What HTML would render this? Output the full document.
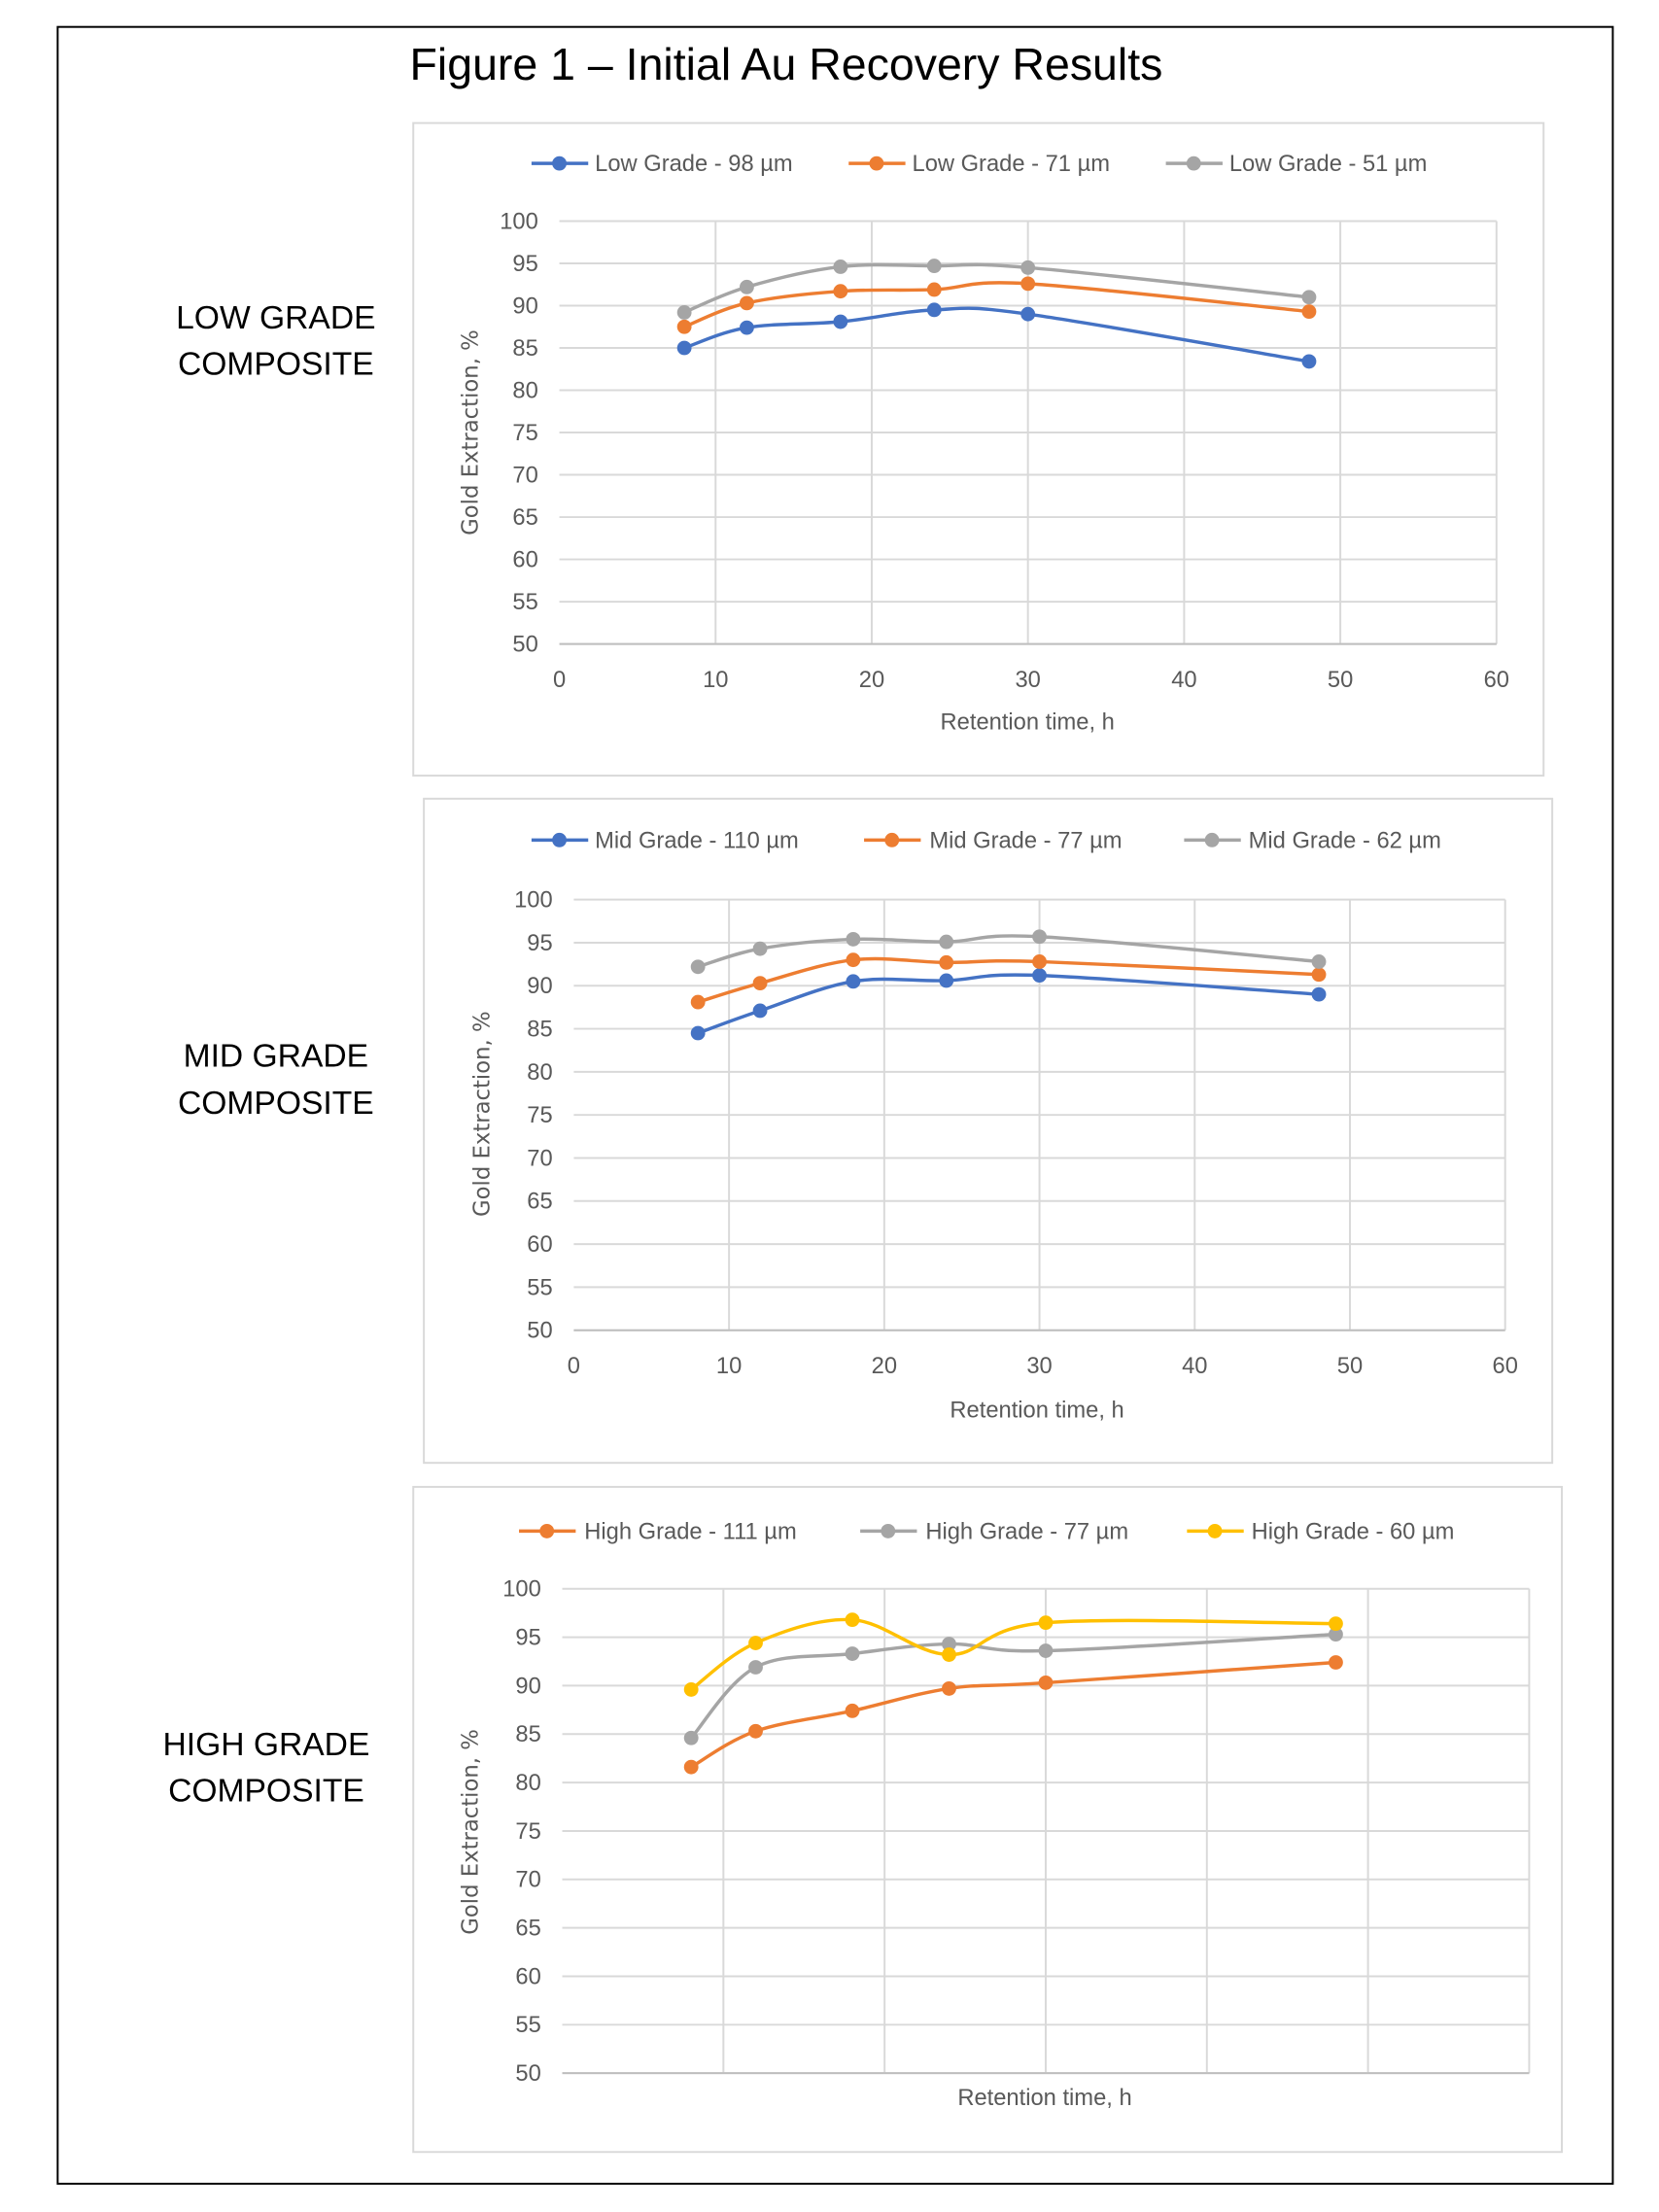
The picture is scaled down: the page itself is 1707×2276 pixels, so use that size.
<!DOCTYPE html>
<html><head><meta charset="utf-8"><style>
html,body{margin:0;padding:0;background:#fff;}
svg{display:block;}
.t{font-family:"Liberation Sans",sans-serif;fill:#595959;font-size:24px;}
.lab{font-family:"Liberation Sans",sans-serif;fill:#000;font-size:34px;}
.yt{font-family:"DejaVu Sans",sans-serif;fill:#595959;font-size:23px;}
</style></head><body>
<svg id="s" width="1707" height="2276" viewBox="0 0 1707 2276" xmlns="http://www.w3.org/2000/svg">
<g transform="scale(0.98895)">
<rect x="60" y="28" width="1618" height="2244" fill="none" stroke="#000" stroke-width="2"/>
<text x="818" y="83" text-anchor="middle" font-family="Liberation Sans, sans-serif" font-size="47" fill="#000">Figure 1 – Initial Au Recovery Results</text>

<text class="lab" x="287" y="342" text-anchor="middle">LOW GRADE</text>
<text class="lab" x="287" y="390" text-anchor="middle">COMPOSITE</text>
<text class="lab" x="287" y="1110" text-anchor="middle">MID GRADE</text>
<text class="lab" x="287" y="1159" text-anchor="middle">COMPOSITE</text>
<text class="lab" x="277" y="1826" text-anchor="middle">HIGH GRADE</text>
<text class="lab" x="277" y="1874" text-anchor="middle">COMPOSITE</text>

<rect x="430" y="128" width="1176" height="679" fill="none" stroke="#d9d9d9" stroke-width="2"/>
<rect x="441" y="831" width="1174" height="691" fill="none" stroke="#d9d9d9" stroke-width="2"/>
<rect x="430" y="1547" width="1195" height="692" fill="none" stroke="#d9d9d9" stroke-width="2"/>

<g id="g1"></g><g id="g2"></g><g id="g3"></g>

<text class="t" x="619" y="178">Low Grade - 98 µm</text>
<text class="t" x="949" y="178">Low Grade - 71 µm</text>
<text class="t" x="1279" y="178">Low Grade - 51 µm</text>
<text class="t" x="1069" y="759" text-anchor="middle">Retention time, h</text>
<text class="yt" transform="translate(497,450) rotate(-90)" text-anchor="middle">Gold Extraction, %</text>
<g id="y1" class="t" text-anchor="end"></g><g id="x1" class="t" text-anchor="middle"></g>

<text class="t" x="619" y="882">Mid Grade - 110 µm</text>
<text class="t" x="967" y="882">Mid Grade - 77 µm</text>
<text class="t" x="1299" y="882">Mid Grade - 62 µm</text>
<text class="t" x="1079" y="1475" text-anchor="middle">Retention time, h</text>
<text class="yt" transform="translate(509,1159) rotate(-90)" text-anchor="middle">Gold Extraction, %</text>
<g id="y2" class="t" text-anchor="end"></g><g id="x2" class="t" text-anchor="middle"></g>

<text class="t" x="608" y="1601">High Grade - 111 µm</text>
<text class="t" x="963" y="1601">High Grade - 77 µm</text>
<text class="t" x="1302" y="1601">High Grade - 60 µm</text>
<text class="t" x="1087" y="2190" text-anchor="middle">Retention time, h</text>
<text class="yt" transform="translate(497,1906) rotate(-90)" text-anchor="middle">Gold Extraction, %</text>
<g id="y3" class="t" text-anchor="end"></g>
</g>
</svg>
<script>
var NS="http://www.w3.org/2000/svg";
function el(p,n,a){var e=document.createElementNS(NS,n);for(var k in a)e.setAttribute(k,a[k]);p.appendChild(e);return e;}
var B="#4472C4",O="#ED7D31",G="#A5A5A5",Y="#FFC000";
var X=[8,12,18,24,30,48];
var charts=[
 {g:"g1",yl:"y1",xl:"x1",L:582,R:1557,T:230,Bt:670,leg:[[553,B],[883,O],[1213,G]],ly:170,
  s:[[B,[85.0,87.4,88.1,89.5,89.0,83.4]],[O,[87.5,90.3,91.7,91.9,92.6,89.3]],[G,[89.2,92.2,94.6,94.7,94.5,91.0]]]},
 {g:"g2",yl:"y2",xl:"x2",L:597,R:1566,T:936,Bt:1384,leg:[[553,B],[899,O],[1232,G]],ly:874,
  s:[[B,[84.5,87.1,90.5,90.6,91.2,89.0]],[O,[88.1,90.3,93.0,92.7,92.8,91.3]],[G,[92.2,94.3,95.4,95.1,95.7,92.8]]]},
 {g:"g3",yl:"y3",xl:null,L:585,R:1591,T:1653,Bt:2157,leg:[[540,O],[895,G],[1235,Y]],ly:1593,
  s:[[O,[81.6,85.3,87.4,89.7,90.3,92.4]],[G,[84.6,91.9,93.3,94.3,93.6,95.3]],[Y,[89.6,94.4,96.8,93.2,96.5,96.4]]]}
];
charts.forEach(function(c){
 var g=document.getElementById(c.g);
 var sx=function(v){return c.L+(c.R-c.L)*v/60;}, sy=function(v){return c.Bt-(c.Bt-c.T)*(v-50)/50;};
 for(var i=0;i<=10;i++){var y=sy(50+5*i);el(g,"line",{x1:c.L,x2:c.R,y1:y,y2:y,stroke:"#d9d9d9","stroke-width":2});}
 for(var i=1;i<=6;i++){var x=sx(10*i);el(g,"line",{x1:x,x2:x,y1:c.T,y2:c.Bt,stroke:"#d9d9d9","stroke-width":2});}
 el(g,"line",{x1:c.L,x2:c.R,y1:c.Bt,y2:c.Bt,stroke:"#bfbfbf","stroke-width":2});
 c.leg.forEach(function(l){el(g,"line",{x1:l[0],x2:l[0]+59,y1:c.ly,y2:c.ly,stroke:l[1],"stroke-width":3.5});
  el(g,"circle",{cx:l[0]+29,cy:c.ly,r:7.5,fill:l[1]});});
 c.s.forEach(function(s){
  var p=X.map(function(x,i){return [sx(x),sy(s[1][i])];});
  var d="M"+p[0][0]+","+p[0][1];
  for(var i=0;i<p.length-1;i++){
   var p0=p[i-1]||p[i],p1=p[i],p2=p[i+1],p3=p[i+2]||p[i+1],t=0.17;
   var c1=[p1[0]+(p2[0]-p0[0])*t,p1[1]+(p2[1]-p0[1])*t],c2=[p2[0]-(p3[0]-p1[0])*t,p2[1]-(p3[1]-p1[1])*t];
   d+=" C"+c1+" "+c2+" "+p2;}
  el(g,"path",{d:d,fill:"none",stroke:s[0],"stroke-width":3.5});
  p.forEach(function(q){el(g,"circle",{cx:q[0],cy:q[1],r:7.5,fill:s[0]});});
 });
 var yg=document.getElementById(c.yl);
 for(var i=0;i<=10;i++){var t=el(yg,"text",{x:c.L-22,y:sy(50+5*i)+8});t.textContent=50+5*i;}
 if(c.xl){var xg=document.getElementById(c.xl);
  for(var i=0;i<=6;i++){var t=el(xg,"text",{x:sx(10*i),y:c.Bt+45});t.textContent=10*i;}}
});
</script>
</body></html>
